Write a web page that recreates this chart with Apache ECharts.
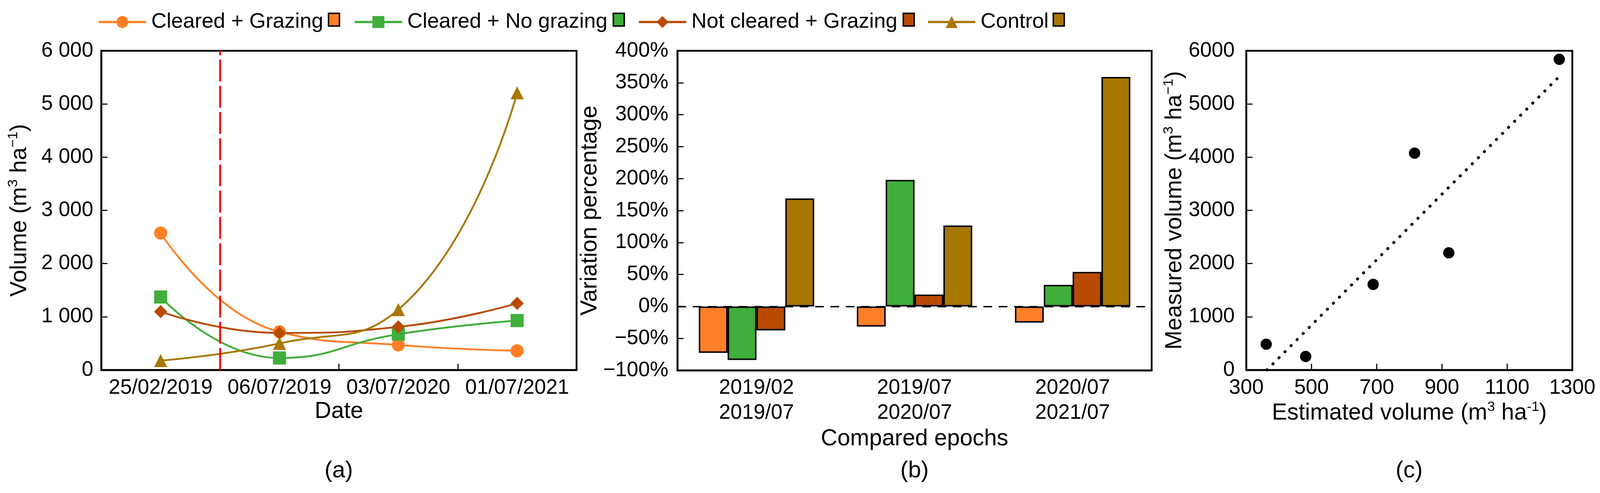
<!DOCTYPE html>
<html>
<head>
<meta charset="utf-8">
<title>Volume variation</title>
<script src="https://cdn.jsdelivr.net/npm/echarts@6/dist/echarts.min.js"></script>
<style>
    html, body { margin: 0; padding: 0; background: #fff; overflow: hidden; }
    #chart { position: absolute; left: 0; top: 0; }
</style>
</head>
<body>
<div id="chart"></div>
<script>
// panel (a) - volume per date
const dates = ['25/02/2019', '06/07/2019', '03/07/2020', '01/07/2021'];
const clearedGrazing = [2574, 717, 470, 360];
const clearedNoGrazing = [1371, 225, 672, 928];
const notClearedGrazing = [1097, 696, 810, 1253];
const control = [176, 500, 1135, 5211];
const treatmentAt = 0.5;   // red dashed line, between 1st and 2nd date

// panel (b) - variation between epochs (%)
const epochs = ['2019/02\n2019/07', '2019/07\n2020/07', '2020/07\n2021/07'];
const varClearedGrazing = [-72.6, -31.6, -25.2];
const varClearedNoGrazing = [-83.8, 198, 33.7];
const varNotClearedGrazing = [-37.5, 18.6, 54];
const varControl = [169, 126.6, 359];

// panel (c) - estimated vs measured
const estimated = [361, 482, 689, 816, 921, 1260];
const measured = [484, 253, 1608, 4076, 2202, 5840];
const trendX = [363, 1260];
const trendY = [0, 5517];

const names = ['Cleared + Grazing', 'Cleared + No grazing', 'Not cleared + Grazing', 'Control'];
const colors = ['#FF7F27', '#3FAE3B', '#B94A02', '#A87700'];
const symbols = ['circle', 'rect', 'diamond', 'triangle'];

// layout is measured on a 4393 x 1262 picture, scaled to the real viewport
const W = window.innerWidth, H = window.innerHeight;
const SX = W / 4393, SY = H / 1262;
const S = Math.min(SX, SY);
const px = v => v * SX;
const py = v => v * SY;
const p = v => v * S;

const FONT = "'Liberation Sans', Arial, sans-serif";
const tickFont = { fontSize: p(57), fontFamily: FONT, color: '#000' };

function nameStyle() {
    return {
        fontSize: p(63), fontFamily: FONT, color: '#000',
        rich: {
            n: { fontSize: p(63), fontFamily: FONT, color: '#000', lineHeight: p(72), verticalAlign: 'middle' },
            s: { fontSize: p(38), fontFamily: FONT, color: '#000', lineHeight: p(40), verticalAlign: 'top' }
        }
    };
}

const axisLine = { show: true, onZero: false, lineStyle: { color: '#000', width: p(5) } };
const tickIn = { show: true, inside: true, length: p(17), lineStyle: { color: '#000', width: p(3) } };

let box = document.getElementById('chart');
box.style.width = W + 'px';
box.style.height = H + 'px';
let chart = echarts.init(box, null, { renderer: 'canvas' });

let lineSeries = [clearedGrazing, clearedNoGrazing, notClearedGrazing, control].map((d, i) => ({
    name: names[i],
    type: 'line',
    xAxisIndex: 0,
    yAxisIndex: 0,
    data: d,
    smooth: 0.5,
    symbol: symbols[i],
    symbolSize: p(36),
    lineStyle: { width: p(5), color: colors[i] },
    itemStyle: { color: colors[i] },
    z: 3
}));

let barSeries = [varClearedGrazing, varClearedNoGrazing, varNotClearedGrazing, varControl].map((d, i) => ({
    name: names[i] + ' ',
    type: 'bar',
    xAxisIndex: 1,
    yAxisIndex: 1,
    data: d,
    barGap: '0%',
    barCategoryGap: '27%',
    itemStyle: { color: colors[i], borderColor: '#000', borderWidth: p(4) }
}));

barSeries[0].markLine = {
    silent: true,
    symbol: ['none', 'none'],
    label: { show: false },
    lineStyle: { color: '#000', width: p(4), type: [p(24), p(18)] },
    data: [{ yAxis: 0 }],
    z: 1
};

// legend: line item then bar square for each group
const lineLegendLeft = [268, 971, 1751, 2545];
const barLegendLeft = [900, 1682, 2478, 2890];
let legends = [];
names.forEach((n, i) => {
    legends.push({
        left: px(lineLegendLeft[i]), top: py(48) - p(20), padding: 0,
        itemWidth: p(130), itemHeight: p(41),
        selectedMode: false,
        lineStyle: { width: p(6) },
        data: [n],
        textStyle: { fontSize: p(58), fontFamily: FONT, color: '#000', lineHeight: p(41), padding: [0, 0, 0, p(9)] }
    });
    legends.push({
        left: px(barLegendLeft[i]), top: py(48) - p(17), padding: 0,
        itemWidth: p(30), itemHeight: p(35),
        selectedMode: false,
        formatter: () => '',
        data: [{ name: n + ' ', icon: 'rect', itemStyle: { color: colors[i], borderColor: '#000', borderWidth: p(4) } }],
        textStyle: { fontSize: p(10) }
    });
});

let option = {
    backgroundColor: '#fff',
    animation: false,
    textStyle: { fontFamily: FONT },
    legend: legends,
    grid: [
        { left: px(278), top: py(130), width: px(1305), height: py(817), show: true, borderColor: '#000', borderWidth: p(5) },
        { left: px(1860), top: py(130), width: px(1302), height: py(818), show: true, borderColor: '#000', borderWidth: p(5) },
        { left: px(3422), top: py(130), width: px(895), height: py(817), show: true, borderColor: '#000', borderWidth: p(5) }
    ],
    xAxis: [
        {
            gridIndex: 0, type: 'category', data: dates, boundaryGap: true,
            axisLine: axisLine, axisTick: Object.assign({ interval: 0 }, tickIn),
            axisLabel: Object.assign({ interval: 0, margin: p(21) }, tickFont),
            splitLine: { show: false },
            name: 'Date', nameLocation: 'middle', nameGap: p(80),
            nameTextStyle: nameStyle()
        },
        {
            gridIndex: 1, type: 'category', data: epochs,
            axisLine: axisLine, axisTick: { show: false },
            axisLabel: Object.assign({ interval: 0, margin: p(14), lineHeight: p(69) }, tickFont),
            splitLine: { show: false },
            name: 'Compared epochs', nameLocation: 'middle', nameGap: p(146),
            nameTextStyle: nameStyle()
        },
        {
            gridIndex: 2, type: 'value', min: 300, max: 1300, interval: 200,
            axisLine: axisLine, axisTick: tickIn,
            axisLabel: Object.assign({ margin: p(21), formatter: v => String(v) }, tickFont),
            splitLine: { show: false },
            name: '{n|Estimated volume (m}{s|3}{n| ha}{s|-1}{n|)}', nameLocation: 'middle', nameGap: p(82),
            nameTextStyle: nameStyle()
        },
        {
            // hidden position axis of panel (a), one unit per date
            gridIndex: 0, type: 'value', min: -0.5, max: 3.5, show: false,
            axisLine: { show: false, onZero: false }
        }
    ],
    yAxis: [
        {
            gridIndex: 0, type: 'value', min: 0, max: 6000, interval: 1000,
            axisLine: axisLine, axisTick: tickIn,
            axisLabel: Object.assign({
                margin: p(22),
                formatter: v => v >= 1000 ? Math.floor(v / 1000) + ' 000' : String(v)
            }, tickFont),
            splitLine: { show: false },
            name: '{n|Volume (m}{s|3}{n| ha}{s|\u22121}{n|)}', nameLocation: 'middle', nameGap: p(188),
            nameTextStyle: nameStyle()
        },
        {
            gridIndex: 1, type: 'value', min: -100, max: 400, interval: 50,
            axisLine: axisLine, axisTick: tickIn,
            axisLabel: Object.assign({
                margin: p(25),
                formatter: v => (v < 0 ? '\u2212' : '') + Math.abs(v) + '%'
            }, tickFont),
            splitLine: { show: false },
            name: 'Variation percentage', nameLocation: 'middle', nameGap: p(180),
            nameTextStyle: nameStyle()
        },
        {
            gridIndex: 2, type: 'value', min: 0, max: 6000, interval: 1000,
            axisLine: axisLine, axisTick: tickIn,
            axisLabel: Object.assign({ margin: p(32), formatter: v => String(v) }, tickFont),
            splitLine: { show: false },
            name: '{n|Measured volume (m}{s|3}{n| ha}{s|\u22121}{n|)}', nameLocation: 'middle', nameGap: p(160),
            nameTextStyle: nameStyle()
        }
    ],
    graphic: ['(a)', '(b)', '(c)'].map((t, i) => ({
        type: 'text',
        x: px([930, 2511, 3869][i]),
        y: py(1206),
        style: { text: t, fontSize: p(64), fontFamily: FONT, fill: '#000', align: 'center', verticalAlign: 'middle' }
    })),
    series: lineSeries.concat(barSeries).concat([
        {
            name: 'treatment',
            type: 'line',
            xAxisIndex: 3, yAxisIndex: 0,
            data: [[treatmentAt, 0]],
            symbol: 'none',
            lineStyle: { width: 0 },
            markLine: {
                silent: true,
                symbol: ['none', 'none'],
                label: { show: false },
                lineStyle: { color: '#FF0000', width: p(5), type: [p(60), p(12)] },
                data: [{ xAxis: treatmentAt }]
            },
            z: 2
        },
        {
            name: 'measured',
            type: 'scatter',
            xAxisIndex: 2, yAxisIndex: 2,
            data: estimated.map((x, i) => [x, measured[i]]),
            symbol: 'circle', symbolSize: p(31),
            itemStyle: { color: '#000', opacity: 1 },
            z: 4
        },
        {
            name: 'trend',
            type: 'line',
            xAxisIndex: 2, yAxisIndex: 2,
            data: trendX.map((x, i) => [x, trendY[i]]),
            showSymbol: false, symbol: 'none',
            lineStyle: { color: '#000', width: p(8), type: [p(0.5), p(23)], cap: 'round' },
            z: 3
        }
    ])
};

chart.setOption(option);
</script>
</body>
</html>
